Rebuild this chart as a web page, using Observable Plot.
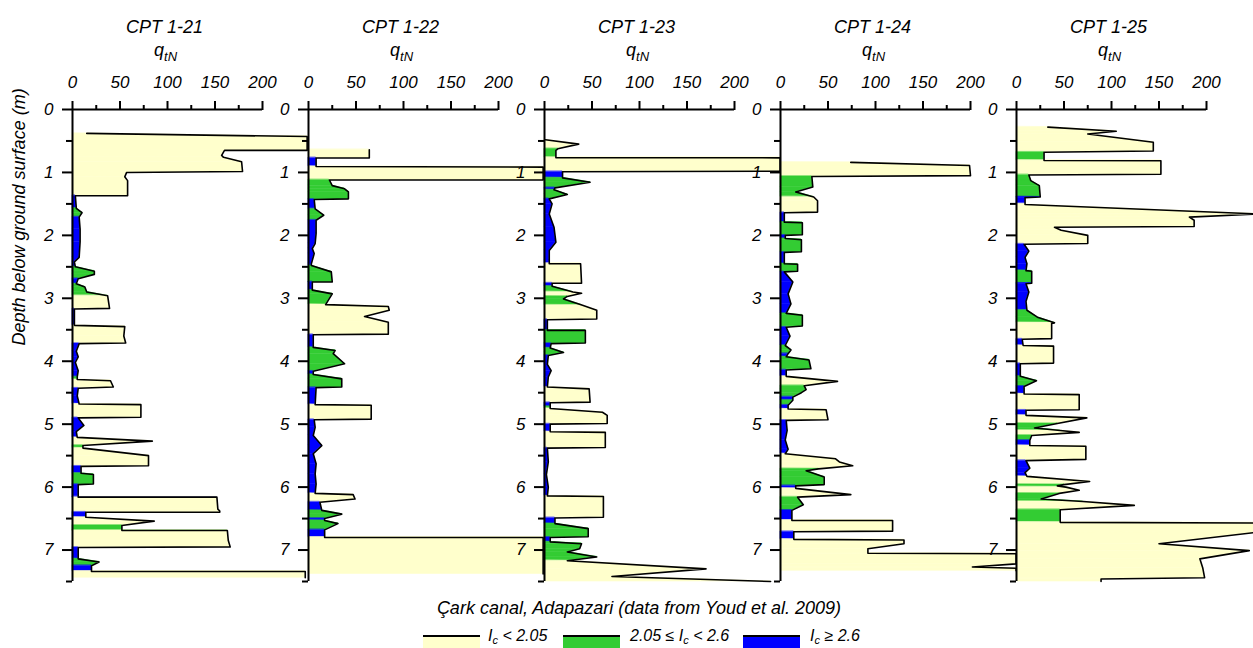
<!DOCTYPE html>
<html>
<head>
<meta charset="utf-8">
<script src="https://cdn.jsdelivr.net/npm/d3@7"></script>
<script src="https://cdn.jsdelivr.net/npm/@observablehq/plot@0.6"></script>
<style>
  body { margin: 0; background: #fff; }
  #wrap { position: relative; width: 1253px; height: 648px; overflow: hidden; font-family: "Liberation Sans", Arial, sans-serif; font-style: italic; color: #000; }
  #chart { position: absolute; left: 0; top: 0; }
  #caption { position: absolute; left: 71px; width: 1136px; top: 597px; text-align: center; font-size: 18px; line-height: 22px; }
  .item { position: absolute; top: 0; }
  .sw { position: absolute; top: 635px; width: 57px; height: 13px; border-top: 2px solid #000; box-sizing: border-box; }
  .lab { position: absolute; top: 627px; font-size: 16px; line-height: 18px; white-space: nowrap; }
  .lab sub { font-size: 11px; vertical-align: -3px; line-height: 0; }
</style>
</head>
<body>
<div id="wrap">
  <div id="chart"></div>
  <div id="caption"></div>
  <div id="legend"></div>
</div>
<script>
// ---------- data: [depth (m), qtN, Ic class index] ----------
const panels = ["CPT 1-21", "CPT 1-22", "CPT 1-23", "CPT 1-24", "CPT 1-25"];
const icClasses = ["Ic < 2.05", "2.05 ≤ Ic < 2.6", "Ic ≥ 2.6"];
const xTicks = [0, 50, 100, 150, 200];
const xMinorTicks = [25, 75, 125, 175];
const yTicks = [0, 1, 2, 3, 4, 5, 6, 7];
const yMinorTicks = [0.5, 1.5, 2.5, 3.5, 4.5, 5.5, 6.5, 7.5];
const captionText = "Çark canal, Adapazari (data from Youd et al. 2009)";
const yLabel = "Depth below ground surface (m)";

const cpt121 = [
[0.38,15,0],[0.43,247,0],[0.65,247,0],[0.65,160,0],[0.73,157,0],[0.76,159,0],[0.83,178,0],[0.985,179,0],[1.0,57,0],[1.07,55,0],[1.13,58,0],[1.37,58,0],
[1.37,3,2],[1.57,4,1],[1.64,10,1],[1.71,7,2],[1.90,8,2],[2.10,8,2],[2.35,7,2],[2.42,2,2],[2.50,3,1],[2.57,23,1],[2.62,23,1],[2.69,6,2],[2.77,4,1],[2.82,13,1],[2.90,15,1],[2.96,37,0],[3.16,39,0],
[3.17,2,2],[3.43,2,0],[3.45,55,0],[3.60,54,0],[3.71,56,0],[3.72,7,2],[3.84,4,2],[3.93,6,2],[4.02,3,2],[4.15,6,2],[4.25,5,1],[4.29,5,0],[4.31,40,0],[4.41,43,0],[4.43,6,2],[4.55,5,2],[4.68,7,0],[4.69,72,0],[4.89,72,0],
[4.90,6,2],[5.02,12,2],[5.12,4,2],[5.21,5,0],[5.27,84,0],[5.34,11,1],[5.38,11,0],[5.50,80,0],[5.66,80,0],[5.67,9,2],[5.78,9,1],[5.80,22,1],[5.95,22,1],[5.96,6,2],[6.16,6,2],[6.16,152,0],[6.35,153,0],[6.38,155,0],[6.40,155,0],
[6.40,14,2],[6.48,14,0],[6.54,86,0],[6.61,52,1],[6.69,52,1],[6.69,163,0],[6.85,164,0],[6.95,166,0],[6.96,6,2],[7.14,6,1],[7.19,28,1],[7.25,20,2],[7.34,20,0],[7.34,245,0],[7.44,245,0]
];
const cpt122 = [
[0.64,64,0],[0.77,64,0],[0.77,8,2],[0.905,8,0],[0.915,247,0],[1.12,247,0],[1.12,22,1],[1.21,25,1],[1.26,38,1],[1.31,42,1],[1.42,42,1],[1.43,6,2],[1.58,7,1],[1.68,16,1],[1.76,8,2],[1.97,8,2],[2.13,7,2],[2.21,4,2],[2.29,6,2],[2.45,3,2],
[2.48,3,1],[2.58,24,1],[2.74,25,1],[2.74,4,2],[2.87,4,1],[2.93,25,1],[3.10,18,0],[3.13,84,0],[3.19,85,0],[3.29,59,0],[3.38,84,0],[3.57,84,0],[3.58,5,2],[3.78,5,1],[3.83,28,1],[3.88,26,1],[4.04,38,1],[4.16,5,2],[4.21,5,1],[4.28,35,1],[4.41,35,1],
[4.42,8,2],[4.69,7,0],[4.70,66,0],[4.92,66,0],[4.93,6,2],[5.05,7,2],[5.18,5,2],[5.34,14,2],[5.47,5,2],[5.63,8,2],[5.79,7,2],[5.95,8,2],[6.10,7,0],[6.12,47,0],[6.19,49,0],[6.24,12,2],[6.37,14,1],[6.43,35,1],[6.50,17,2],[6.53,17,1],[6.58,31,1],[6.68,17,2],[6.80,17,0],[6.80,247,0],[7.38,247,0]
];
const cpt123 = [
[0.48,1,0],[0.55,36,0],[0.625,14,1],[0.65,12,1],[0.765,12,0],[0.768,248,0],[0.98,248,0],[0.99,19,2],[1.086,19,1],[1.155,48,1],[1.245,11,2],[1.276,10,1],[1.35,24,1],[1.42,5,2],[1.50,8,2],[1.66,5,2],[1.87,10,2],[2.11,12,2],[2.24,5,2],[2.40,5,2],[2.45,5,0],[2.45,38,0],[2.76,39,0],
[2.76,8,2],[2.81,8,1],[2.90,30,0],[2.92,39,0],[2.97,24,1],[3.01,20,1],[3.11,40,0],[3.19,55,0],[3.33,55,0],[3.34,3,2],[3.51,3,1],[3.51,43,1],[3.71,43,1],[3.72,7,2],[3.79,6,1],[3.86,20,1],[3.91,4,2],[4.05,3,2],[4.15,7,2],[4.25,4,2],[4.41,3,0],[4.44,47,0],[4.65,48,0],
[4.66,6,2],[4.72,6,1],[4.75,6,0],[4.81,61,0],[4.86,66,0],[4.99,66,0],[5.00,6,2],[5.12,6,0],[5.13,64,0],[5.37,64,0],[5.38,3,2],[5.60,4,2],[5.80,2,2],[6.00,4,2],[6.14,3,0],[6.15,62,0],[6.48,62,0],[6.49,11,2],[6.58,11,1],[6.66,46,1],[6.79,46,1],
[6.80,6,2],[6.87,6,1],[6.90,39,1],[6.98,37,1],[7.03,24,1],[7.11,55,1],[7.17,24,0],[7.30,170,0],[7.42,71,0],[7.50,238,0]
];
const cpt124 = [
[0.84,74,0],[0.89,199,0],[1.05,200,0],[1.065,33,1],[1.23,34,1],[1.31,16,1],[1.39,35,0],[1.45,39,0],[1.63,39,0],[1.64,4,2],[1.79,4,1],[1.80,23,1],[1.99,23,1],[2.0,5,2],[2.05,5,1],[2.07,22,1],[2.26,22,1],[2.27,4,2],[2.45,4,1],[2.46,18,1],[2.57,18,1],
[2.58,4,2],[2.74,13,2],[2.93,8,2],[3.09,11,2],[3.24,6,1],[3.27,23,1],[3.44,23,1],[3.46,6,2],[3.60,10,2],[3.75,5,1],[3.82,11,1],[3.88,8,2],[3.93,6,1],[3.98,30,1],[4.12,32,1],[4.14,6,2],[4.24,6,0],[4.32,60,0],[4.39,25,1],[4.45,27,1],[4.50,22,1],
[4.57,13,2],[4.62,13,1],[4.70,8,2],[4.76,8,0],[4.77,48,0],[4.93,50,0],[4.94,6,2],[5.10,7,2],[5.25,5,2],[5.40,8,2],[5.47,5,0],[5.55,58,0],[5.60,62,0],[5.66,76,0],[5.71,40,1],[5.74,27,1],[5.84,46,1],[5.96,46,1],[5.98,16,2],[6.02,16,0],[6.12,74,0],
[6.16,18,1],[6.28,24,1],[6.37,12,2],[6.53,12,0],[6.53,118,0],[6.70,118,0],[6.71,14,2],[6.83,14,0],[6.84,130,0],[6.90,130,0],[6.98,92,0],[7.05,92,0],[7.06,248,0],[7.22,248,0],[7.27,202,0],[7.29,248,0],[7.33,248,0]
];
const cpt125 = [
[0.28,33,0],[0.345,105,0],[0.39,75,0],[0.52,144,0],[0.66,144,0],[0.68,29,1],[0.81,29,0],[0.815,152,0],[1.03,152,0],[1.04,13,1],[1.13,15,1],[1.21,24,1],[1.39,25,2],[1.40,9,2],[1.50,9,0],[1.51,9,0],[1.66,255,0],[1.71,182,0],[1.76,187,0],[1.86,187,0],[1.87,40,0],[1.92,47,0],[2.0,75,0],[2.13,75,0],
[2.14,8,2],[2.25,13,2],[2.35,9,2],[2.45,11,2],[2.56,10,1],[2.57,16,1],[2.76,16,2],[2.77,10,2],[2.90,13,2],[3.05,10,2],[3.19,11,1],[3.30,22,1],[3.39,40,0],[3.40,37,0],[3.64,37,0],[3.65,6,2],[3.75,7,0],[3.76,39,0],[4.03,39,0],
[4.04,4,2],[4.24,4,1],[4.31,21,1],[4.40,8,2],[4.52,8,0],[4.53,66,0],[4.77,66,0],[4.78,10,2],[4.86,10,0],[4.90,74,0],[4.99,43,1],[5.06,19,1],[5.10,46,0],[5.13,66,0],[5.18,16,1],[5.26,14,2],[5.34,14,0],[5.35,73,0],[5.56,73,0],
[5.58,10,2],[5.70,14,2],[5.77,9,2],[5.83,11,0],[5.91,77,0],[5.96,50,1],[5.98,43,1],[6.00,52,0],[6.05,66,0],[6.10,45,1],[6.19,26,1],[6.23,70,0],[6.29,124,0],[6.36,46,1],[6.56,46,0],[6.57,255,0],[6.72,252,0],[6.90,150,0],[7.01,245,0],[7.14,193,0],[7.28,196,0],[7.44,198,0],[7.46,89,0],[7.50,89,0]
];

// ---------- styles ----------
const classColors = ["#ffffcc", "#33cc33", "#0000ff"];
const fontStack = "'Liberation Sans', Arial, sans-serif";

// ---------- build tables ----------
const profiles = [cpt121, cpt122, cpt123, cpt124, cpt125];
const points = [];
const segments = [];
profiles.forEach((rows, p) => {
  rows.forEach(([d, q]) => points.push({panel: panels[p], depth: d, q}));
  for (let i = 0; i < rows.length - 1; i++) {
    const id = p * 1000 + i;
    const c = rows[i][2];
    segments.push({panel: panels[p], seg: id, depth: rows[i][0], q: rows[i][1], ic: c});
    segments.push({panel: panels[p], seg: id, depth: rows[i + 1][0], q: rows[i + 1][1], ic: c});
  }
});

const chart = Plot.plot({
  width: 1253,
  height: 591,
  marginLeft: 71,
  marginRight: 46,
  marginTop: 109,
  marginBottom: 10,
  style: {fontFamily: fontStack, fontStyle: "italic", fontSize: "17px", color: "#000", background: "transparent", overflow: "visible"},
  fx: {domain: panels, paddingInner: 46.5 / 236.5, paddingOuter: 0, axis: null, label: null},
  x: {domain: [0, 200], label: null},
  y: {domain: [0, 7.5], reverse: true, label: null},
  color: {type: "ordinal", domain: [0, 1, 2], range: classColors},
  marks: [
    Plot.areaX(segments, {fx: "panel", y: "depth", x2: "q", z: "seg", fill: "ic", stroke: "ic", strokeWidth: 0.6, curve: "linear"}),
    Plot.line(points, {fx: "panel", x: "q", y: "depth", stroke: "#000", strokeWidth: 1.6, curve: "linear"}),
    Plot.ruleY([0], {x1: 0, x2: 200, stroke: "#000", strokeWidth: 2}),
    Plot.ruleX([0], {y1: 0, y2: 7.5, stroke: "#000", strokeWidth: 2}),
    Plot.axisX({anchor: "top", ticks: xTicks, tickSize: 9, tickPadding: 13, strokeWidth: 2, fontSize: 17, fontStyle: "italic", label: null}),
    Plot.axisX({anchor: "top", ticks: xMinorTicks, tickSize: 5, tickFormat: () => "", strokeWidth: 2, label: null}),
    Plot.axisY({anchor: "left", ticks: yTicks, tickSize: 10, tickPadding: 9, strokeWidth: 2, fontSize: 17, fontStyle: "italic", label: null, facetAnchor: null}),
    Plot.axisY({anchor: "left", ticks: yMinorTicks, tickSize: 6, tickFormat: () => "", strokeWidth: 2, label: null, facetAnchor: null}),
    Plot.text(panels, {fx: d => d, text: d => d, frameAnchor: "top", dy: -89, dx: -3, fontSize: 18, fontStyle: "italic"}),
    Plot.text(panels, {fx: d => d, text: () => "qtN", frameAnchor: "top", dy: -66, dx: -2, fontSize: 18, fontStyle: "italic"}),
    Plot.text([yLabel], {fx: () => panels[0], text: d => d, frameAnchor: "left", rotate: -90, dx: -53, fontSize: 18, fontStyle: "italic"})
  ]
});

// subscript for q_tN
d3.select(chart).selectAll("text").filter(function() { return this.textContent === "qtN"; }).each(function() {
  const t = d3.select(this);
  t.text("q");
  t.append("tspan").attr("font-size", 13).attr("dy", "0.35em").text("tN");
});

document.getElementById("chart").appendChild(chart);
document.getElementById("caption").textContent = captionText;

// legend
const legend = document.getElementById("legend");
const legendX = [423, 563, 743];
const legendHtml = [
  "<i>I<sub>c</sub></i> &lt; 2.05",
  "2.05 ≤ <i>I<sub>c</sub></i> &lt; 2.6",
  "<i>I<sub>c</sub></i> ≥ 2.6"
];
icClasses.forEach((c, i) => {
  const sw = document.createElement("div");
  sw.className = "sw";
  sw.style.left = legendX[i] + "px";
  sw.style.background = classColors[i];
  sw.title = c;
  legend.appendChild(sw);
  const lab = document.createElement("div");
  lab.className = "lab";
  lab.style.left = (legendX[i] + (i === 0 ? 65 : 67)) + "px";
  lab.innerHTML = legendHtml[i];
  legend.appendChild(lab);
});
</script>
</body>
</html>
